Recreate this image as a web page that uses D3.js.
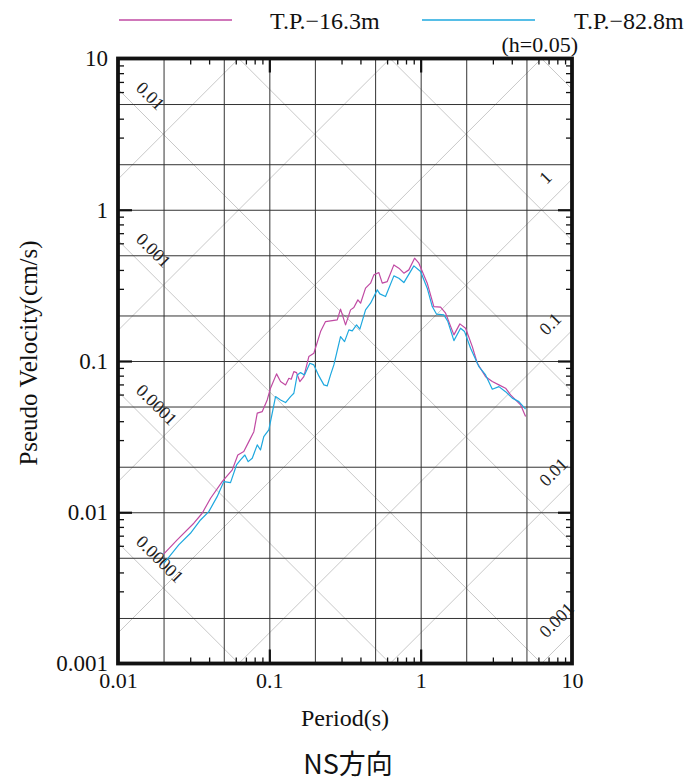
<!DOCTYPE html>
<html><head><meta charset="utf-8">
<script src="https://cdn.jsdelivr.net/npm/d3@7"></script>
<style>
body{margin:0;background:#fff}
svg text{font-family:"Liberation Serif","Times New Roman",serif}
</style>
</head><body>
<svg id="c" width="693" height="782"></svg>
<script>
// ---- data ----
const seriesNames = ["T.P.\u221216.3m", "T.P.\u221282.8m"];
const seriesColors = ["#c04aa3", "#1ea8df"];

const periodsA = [0.0201,0.0246,0.0317,0.0360,0.0409,0.0488,0.0569,0.0619,0.0678,0.0732,0.0790,0.0832,0.0898,0.0968,
  0.1018,0.1116,0.1186,0.128,0.1346,0.1395,0.1452,0.1513,0.1591,0.1690,0.1824,0.1969,0.2180,0.2352,0.2605,0.2811,
  0.2955,0.3189,0.3441,0.3618,0.3846,0.4008,0.4323,0.4666,0.4906,0.5293,0.5575,0.6015,0.6652,0.7177,0.7745,0.8356,
  0.9114,0.9730,1.105,1.222,1.354,1.461,1.658,1.816,1.981,2.194,2.367,2.685,2.974,3.288,3.639,3.928,4.35,4.574,4.935];
const svA = [0.00530,0.00656,0.00846,0.00985,0.01238,0.01594,0.01905,0.0239,0.0252,0.0293,0.0341,0.0452,0.0463,0.0553,
  0.0661,0.0822,0.0731,0.0695,0.0769,0.0758,0.0851,0.0838,0.0731,0.0788,0.1069,0.1126,0.1565,0.1823,0.185,0.187,
  0.2202,0.1733,0.2178,0.2255,0.2535,0.2411,0.303,0.327,0.371,0.3843,0.327,0.335,0.432,0.411,0.381,0.4004,
  0.4785,0.4433,0.327,0.229,0.2269,0.207,0.1488,0.176,0.1648,0.1245,0.0967,0.0788,0.0731,0.0695,0.0661,0.0597,0.0539,0.0513,0.0429];

const periodsB = [0.0201,0.0252,0.0301,0.0351,0.0398,0.0452,0.0500,0.0554,0.0607,0.0645,0.0689,0.0725,0.0771,0.0832,
  0.0874,0.0919,0.0992,0.1045,0.1099,0.1186,0.128,0.1381,0.1452,0.1529,0.1608,0.1708,0.1852,0.1969,0.2125,0.2293,
  0.2414,0.2538,0.2669,0.2955,0.3141,0.3354,0.3531,0.3770,0.3964,0.4323,0.4666,0.5166,0.5374,0.5861,0.6652,0.7177,
  0.7745,0.9016,0.9984,1.105,1.193,1.274,1.423,1.513,1.658,1.835,1.950,2.137,2.425,2.685,2.974,3.288,3.639,4.031,4.457,4.935];
const svB = [0.0046,0.00608,0.00726,0.00889,0.01009,0.01268,0.01594,0.0157,0.02055,0.0222,0.0239,0.0216,0.02276,0.0279,
  0.0258,0.0316,0.035,0.0452,0.0582,0.0553,0.0531,0.0582,0.0612,0.0809,0.0838,0.0809,0.0967,0.0942,0.0797,0.0695,
  0.0684,0.0809,0.0942,0.145,0.1343,0.1606,0.1581,0.1733,0.1623,0.2178,0.2411,0.2953,0.2779,0.2667,0.3654,0.3528,
  0.33,0.4256,0.3902,0.303,0.229,0.2039,0.2018,0.1823,0.1364,0.1648,0.1565,0.1215,0.0918,0.0809,0.0651,0.0677,0.0627,0.0568,0.0539,0.048];

const xTickValues = [0.01, 0.1, 1, 10];
const yTickValues = [0.001, 0.01, 0.1, 1, 10];
const sdLabelValues = [0.01, 0.001, 0.0001, 0.00001];   // displacement (cm)
const saLabelValues = [1, 0.1, 0.01, 0.001];            // acceleration
const sdLineExp = [-5, -4, -3, -2, -1, 0, 1];
const saLineExp = [-3, -2, -1, 0, 1, 2, 3];
const dampingText = "(h=0.05)";
const xTitle = "Period(s)";
const yTitle = "Pseudo Velocity(cm/s)";
const chartTitle = "NS\u65b9\u5411";

// ---- layout ----
const L = 118, R = 572, T = 58.5, B = 663.5;
const svg = d3.select("#c");
const x = d3.scaleLog().domain([0.01, 10]).range([L, R]);
const y = d3.scaleLog().domain([0.001, 10]).range([B, T]);
const TWO_PI = 2 * Math.PI;

function valuesFor(domain, mults) {
  const out = [];
  for (let e = Math.round(Math.log10(domain[0])); e <= Math.round(Math.log10(domain[1])); e++)
    for (const m of mults) { const v = m * Math.pow(10, e); if (v > domain[0] * 1.0001 && v < domain[1] * 0.9999) out.push(v); }
  return out;
}
const gridX = valuesFor(x.domain(), [1, 2, 5]);
const gridY = valuesFor(y.domain(), [1, 2, 5]);
const minorX = valuesFor(x.domain(), [3, 4, 6, 7, 8, 9]);
const minorY = valuesFor(y.domain(), [3, 4, 6, 7, 8, 9]);
const majorX = valuesFor(x.domain(), [1]);
const majorY = valuesFor(y.domain(), [1]);

svg.append("defs").append("clipPath").attr("id", "plotclip")
  .append("rect").attr("x", L).attr("y", T).attr("width", R - L).attr("height", B - T);

// diagonal lines
const diag = svg.append("g").attr("clip-path", "url(#plotclip)")
  .attr("stroke", "#c8c8c8").attr("stroke-width", 1).attr("fill", "none");
const line2 = d3.line().x(d => x(d[0])).y(d => y(d[1]));
const [t0, t1] = x.domain();
sdLineExp.forEach(k => {
  const sd = Math.pow(10, k);
  diag.append("path").attr("d", line2([[t0, TWO_PI * sd / t0], [t1, TWO_PI * sd / t1]]));
});
saLineExp.forEach(k => {
  const sa = Math.pow(10, k);
  diag.append("path").attr("d", line2([[t0, sa * t0 / TWO_PI], [t1, sa * t1 / TWO_PI]]));
});

// grid
function styleAxis(g) { g.select(".domain").remove(); }
svg.append("g").attr("transform", `translate(0,${B})`)
  .call(d3.axisBottom(x).tickValues(gridX).tickSize(-(B - T)).tickFormat(""))
  .call(styleAxis).selectAll("line").attr("stroke", "#333").attr("stroke-width", 1);
svg.append("g").attr("transform", `translate(${L},0)`)
  .call(d3.axisLeft(y).tickValues(gridY).tickSize(-(R - L)).tickFormat(""))
  .call(styleAxis).selectAll("line").attr("stroke", "#333").attr("stroke-width", 1);

// ticks (inward) on four sides
function ticks(axisFn, tr, vals, size, w) {
  svg.append("g").attr("transform", tr)
    .call(axisFn.tickValues(vals).tickSize(-size).tickFormat(""))
    .call(styleAxis).selectAll("line").attr("stroke", "#111").attr("stroke-width", w);
}
ticks(d3.axisBottom(x), `translate(0,${B})`, minorX, 6, 1.3);
ticks(d3.axisTop(x), `translate(0,${T})`, minorX, 6, 1.3);
ticks(d3.axisLeft(y), `translate(${L},0)`, minorY, 6, 1.3);
ticks(d3.axisRight(y), `translate(${R},0)`, minorY, 6, 1.3);
ticks(d3.axisBottom(x), `translate(0,${B})`, majorX, 14, 2.2);
ticks(d3.axisTop(x), `translate(0,${T})`, majorX, 14, 2.2);
ticks(d3.axisLeft(y), `translate(${L},0)`, majorY, 14, 2.2);
ticks(d3.axisRight(y), `translate(${R},0)`, majorY, 14, 2.2);

// diagonal labels
const dl = svg.append("g").attr("font-size", 18).attr("fill", "#222");
sdLabelValues.forEach(sd => {
  const px = x(t0), py = y(TWO_PI * sd / t0);
  dl.append("text").attr("transform", `translate(${px},${py}) rotate(45)`)
    .attr("x", 12).attr("y", -12).text(String(sd));
});
saLabelValues.forEach(sa => {
  const px = x(t1), py = y(sa * t1 / TWO_PI);
  dl.append("text").attr("transform", `translate(${px},${py}) rotate(-45)`)
    .attr("x", -22).attr("y", -14).text(String(sa));
});

// curves
const curve = d3.line().x(d => x(d[0])).y(d => y(d[1]));
const seriesData = [d3.zip(periodsA, svA), d3.zip(periodsB, svB)];
seriesData.forEach((s, i) => {
  svg.append("path").attr("d", curve(s)).attr("fill", "none")
    .attr("stroke", seriesColors[i]).attr("stroke-width", 1.2).attr("stroke-linejoin", "round");
});

// frame
svg.append("rect").attr("x", L).attr("y", T).attr("width", R - L).attr("height", B - T)
  .attr("fill", "none").attr("stroke", "#111").attr("stroke-width", 3.8);

// tick labels
const yl = svg.append("g").attr("transform", `translate(${L},0)`)
  .call(d3.axisLeft(y).tickValues(yTickValues).tickSize(0).tickPadding(10).tickFormat(d => String(d)));
yl.select(".domain").remove();
yl.attr("font-size", 23).attr("font-family", null).selectAll("text").attr("fill", "#111");
const xl = svg.append("g").attr("transform", `translate(0,${B})`)
  .call(d3.axisBottom(x).tickValues(xTickValues).tickSize(0).tickPadding(9).tickFormat(d => String(d)));
xl.select(".domain").remove();
xl.attr("font-size", 22).attr("font-family", null).selectAll("text").attr("fill", "#111");

// titles
svg.append("text").attr("x", (L + R) / 2).attr("y", 726).attr("text-anchor", "middle")
  .attr("font-size", 24).attr("fill", "#111").text(xTitle);
svg.append("text").attr("transform", `translate(37,353) rotate(-90)`).attr("text-anchor", "middle")
  .attr("font-size", 25).attr("fill", "#111").text(yTitle);
svg.append("text").attr("x", 348).attr("y", 774).attr("text-anchor", "middle")
  .attr("font-size", 27).attr("fill", "#111")
  .style("font-family", '"Noto Sans CJK JP","Noto Sans CJK SC",sans-serif').text(chartTitle);
svg.append("text").attr("x", 578).attr("y", 52).attr("text-anchor", "end")
  .attr("font-size", 22).attr("fill", "#111").text(dampingText);

// legend
const legX = [[119, 232, 270], [422, 535, 574]];
seriesNames.forEach((n, i) => {
  svg.append("line").attr("x1", legX[i][0]).attr("x2", legX[i][1]).attr("y1", 20).attr("y2", 20)
    .attr("stroke", seriesColors[i]).attr("stroke-width", 1.3);
  svg.append("text").attr("x", legX[i][2]).attr("y", 29).attr("font-size", 24).attr("fill", "#111").text(n);
});
</script>
</body></html>
